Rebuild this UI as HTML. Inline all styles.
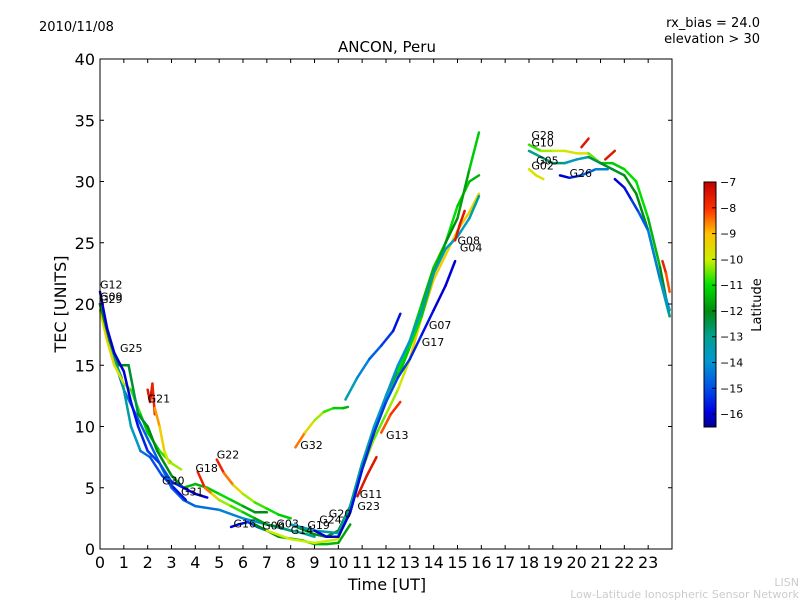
<!DOCTYPE html>
<html><head><meta charset="utf-8"><style>
body{margin:0;background:#fff;}
svg{display:block;font-family:"DejaVu Sans","Liberation Sans",sans-serif;}
</style></head><body>
<svg id="chart" width="800" height="600" viewBox="0 0 800 600">
<defs>
<linearGradient id="jet" x1="0" y1="1" x2="0" y2="0">
<stop offset="0" stop-color="#000090"/><stop offset="0.06" stop-color="#0000e0"/>
<stop offset="0.16" stop-color="#0050e8"/><stop offset="0.27" stop-color="#0098d0"/>
<stop offset="0.37" stop-color="#00a090"/><stop offset="0.47" stop-color="#008a10"/>
<stop offset="0.58" stop-color="#00e000"/><stop offset="0.68" stop-color="#c8f000"/>
<stop offset="0.79" stop-color="#ffc000"/><stop offset="0.89" stop-color="#ff3000"/>
<stop offset="1" stop-color="#c00000"/>
</linearGradient>
</defs>
<text x="39" y="31" font-size="13">2010/11/08</text>
<text x="760" y="27" font-size="13" text-anchor="end">rx_bias = 24.0</text>
<text x="760" y="43" font-size="13" text-anchor="end">elevation &gt; 30</text>
<text x="387" y="52" font-size="15" text-anchor="middle">ANCON, Peru</text>
<g id="marks"></g>
<rect x="100" y="59" width="572" height="490" fill="none" stroke="#000" stroke-width="1"/>
<g id="axes"></g>
<text x="387" y="590" font-size="16" text-anchor="middle">Time [UT]</text>
<text x="66" y="304" font-size="16" text-anchor="middle" transform="rotate(-90 66 304)">TEC [UNITS]</text>
<rect x="704" y="182" width="12" height="245" fill="url(#jet)" stroke="#000" stroke-width="1"/>
<g id="cbticks"></g>
<text x="761" y="305" font-size="13" text-anchor="middle" transform="rotate(-90 761 305)">Latitude</text>
<text x="799" y="586" font-size="11" fill="#ccc" text-anchor="end">LISN</text>
<text x="799" y="598" font-size="11" fill="#ccc" text-anchor="end">Low-Latitude Ionospheric Sensor Network</text>
</svg>
<script>
const xTicks=[0,1,2,3,4,5,6,7,8,9,10,11,12,13,14,15,16,17,18,19,20,21,22,23];
const yTicks=[0,5,10,15,20,25,30,35,40];
const latTicks=[-7,-8,-9,-10,-11,-12,-13,-14,-15,-16];
const tr1T=[0,0.3,0.6,1,1.3,1.6,2,2.5,3,3.5,4,4.5];
const tr1V=[21,18,16,14.5,12,10,8,7,5.5,5,4.5,4.2];
const tr1L=[-16,-16,-16,-16,-16,-15.5,-15.5,-15,-15,-16,-16,-16];
const tr2T=[0,0.4,0.8,1.2,1.4,1.6,2,2.4,3,3.5,4,4.5,5,5.5,6,6.5,7];
const tr2V=[20,17,15,15,13,11,10,8,6,5,5.3,5,4.5,4,3.5,3,3];
const tr2L=[-12,-12,-12,-12,-12.5,-12.5,-12,-12,-12,-11.5,-11.5,-11.5,-11,-11,-11.5,-12,-12];
const tr3T=[0,0.3,0.6,1,1.3,1.7,2,2.5,3,3.4];
const tr3V=[19.5,17,15,13.5,13,11,9.5,8,7,6.5];
const tr3L=[-9.5,-9.5,-9.5,-10,-10.5,-11,-11.5,-11,-10.5,-10];
const tr4T=[0,0.5,1,1.5,2,2.5,3,3.5,4,5,6,7,8];
const tr4V=[20,16,13,11,9,7,5,4,3.5,3.2,2.5,2,1.5];
const tr4L=[-14.5,-14.5,-14.5,-14.5,-15,-14.5,-14.5,-15,-14.5,-14.5,-14,-14,-14];
const tr5T=[0,0.4,0.9,1.3,1.7,2.1,2.6,3.1,3.6];
const tr5V=[20,16.5,14,10,8,7.5,6,5,4];
const tr5L=[-13,-13,-13,-13.5,-14,-15,-15,-15.5,-16];
const g21aT=[2,2.1,2.2,2.3];const g21aV=[13,12,13.5,11];const g21aL=[-7.5,-7.5,-7.5,-8];
const g21bT=[2.3,2.5,2.7,2.9];const g21bV=[11.5,10,8,7];const g21bL=[-8.5,-9,-9.5,-10];
const g22T=[4.9,5.2,5.6,6,6.5,7,7.5,8];const g22V=[7.3,6.2,5.2,4.5,3.8,3.3,2.8,2.5];const g22L=[-7.5,-8,-9,-10,-10.5,-11,-11,-11.5];
const g18T=[4.1,4.4,4.7,5,5.5,6,6.5,7,7.5,8,8.5,9];const g18V=[6.3,5,4.5,4,3.5,3,2.5,2,1.8,1.5,1.3,1];const g18L=[-7.5,-8,-9,-10,-10.5,-11,-11.5,-12,-12.5,-13,-13,-13];
const g32aT=[8.2,8.6,9,9.4,9.8,10.2,10.4];const g32aV=[8.3,9.5,10.5,11.2,11.5,11.5,11.6];const g32aL=[-8,-9,-10,-10.5,-11,-11.5,-11.5];
const g32bT=[10.3,10.8,11.3,11.8,12.3,12.6];const g32bV=[12.2,14,15.5,16.6,17.8,19.2];const g32bL=[-13,-14,-14.5,-15,-15.5,-16];
const g16T=[5.5,5.8,6.2,6.6,7];const g16V=[1.8,2,2.2,1.8,1.5];const g16L=[-16,-16,-15.5,-15,-15];
const rAT=[8,9,9.5,10,10.5,11,11.5,12,12.5,13,13.5,14,14.5,15,15.5,15.9];
const rAV=[2,1.2,1,1.5,3.5,7,9.5,12,14,16.5,19,22.5,25,27,31,34];
const rAL=[-12,-12,-12,-12,-12,-11.5,-11.5,-11.5,-11.5,-11,-11,-11.5,-12,-12,-11.5,-11];
const rBT=[7,8,9,10,10.4,11,11.5,12,12.5,13,13.5,14,14.5,15,15.5,15.9];
const rBV=[1.5,0.8,0.5,0.8,3,6.5,9,11,13,15.5,19,22,24,26,27.5,29];
const rBL=[-10,-10,-10,-10,-10,-10,-10.5,-10.5,-10,-9.5,-9,-9,-9.5,-9.5,-9,-9.8];
const rCT=[9,9.5,10,10.5,11,11.5,12,12.5,13,13.5,14,14.5,14.9];
const rCV=[1.5,1,1,3,6.5,9.5,12,14,15.5,17.5,19.5,21.5,23.5];
const rCL=[-16,-16,-16,-16,-15.5,-15.5,-15,-15,-15.5,-15.5,-16,-16,-16];
const rDT=[8,9,10,10.5,11,11.5,12,12.5,13,13.5,14,14.5,15,15.5,15.9];
const rDV=[2,1.5,1.3,3.5,7,10,12.5,15,17,19.5,22.5,24.5,25.5,27,28.8];
const rDL=[-13.5,-13.5,-13,-13,-13.5,-13.5,-14,-14,-14,-13.5,-13,-13.5,-14,-13.5,-13];
const rET=[10,10.5,11,11.5,12,12.5,13,13.5,14,14.5,15,15.5,15.9];
const rEV=[1,3,6.5,9.5,12.5,14.5,17,20,23,25,28,30,30.5];
const rEL=[-12,-12,-12,-12.5,-12,-11,-11,-11.5,-11.5,-11,-11,-11.5,-11.5];
const g13T=[11.8,12.2,12.6];const g13V=[9.5,11,12];const g13L=[-8,-8.5,-7.5];
const g11T=[10.8,11.2,11.6];const g11V=[4.3,6,7.5];const g11L=[-7.5,-7.5,-7.5];
const botT=[6.5,7.5,8.5,9,9.5,10,10.5];const botV=[2,1,0.7,0.4,0.4,0.5,2];const botL=[-12,-12,-11.5,-11.5,-11.5,-11.5,-12];
const g08T=[14.9,15.1,15.3];const g08V=[25.2,26.5,27.6];const g08L=[-7.5,-7.5,-7.5];
const e1T=[18,18.5,19,19.5,20,20.5,21,21.5,22,22.5,23,23.5,23.9];
const e1V=[33,32.5,32.5,32.5,32.3,32.3,31.5,31.5,31,30,27,23,19];
const e1L=[-11,-10.5,-10,-10,-9.5,-10,-11,-11.5,-11,-11,-11,-12,-12];
const e2T=[18,18.5,19,19.5,20,20.5,21,21.5,22,22.5,23,23.5,23.9];
const e2V=[32.5,32,31.5,31.5,31.8,32,31.5,31,30.5,29,26,22,19];
const e2L=[-13,-13,-12.5,-13,-14,-13,-12,-12.5,-12,-12,-12,-13,-13];
const e3T=[18,18.3,18.6];const e3V=[31,30.5,30.2];const e3L=[-9.8,-9.8,-9.5];
const e4T=[19.3,19.7,20.2,20.8,21.3];const e4V=[30.5,30.3,30.5,31,31];const e4L=[-16,-16,-15,-14.5,-14];
const e5T=[21.6,22,22.3,22.6,23,23.5,23.9];const e5V=[30.2,29.5,28.5,27.5,26,22,19.5];const e5L=[-16,-16,-15.5,-15,-14.5,-14,-14];
const e6T=[23.6,23.75,23.9];const e6V=[23.5,22.5,21];const e6L=[-7.5,-8,-8.5];
const e7T=[20.2,20.5];const e7V=[32.8,33.5];const e7L=[-7.5,-7.5];
const e8T=[21.2,21.6];const e8V=[31.8,32.5];const e8L=[-7.5,-7.5];
const traces=[[tr4T,tr4V,tr4L],[tr5T,tr5V,tr5L],[tr3T,tr3V,tr3L],[tr2T,tr2V,tr2L],[tr1T,tr1V,tr1L],
[g21aT,g21aV,g21aL],[g21bT,g21bV,g21bL],[g22T,g22V,g22L],[g18T,g18V,g18L],[g32aT,g32aV,g32aL],[g32bT,g32bV,g32bL],
[g16T,g16V,g16L],[botT,botV,botL],[rBT,rBV,rBL],[rET,rEV,rEL],[rAT,rAV,rAL],[rDT,rDV,rDL],[rCT,rCV,rCL],
[g13T,g13V,g13L],[g11T,g11V,g11L],[g08T,g08V,g08L],[e1T,e1V,e1L],[e2T,e2V,e2L],[e3T,e3V,e3L],[e4T,e4V,e4L],
[e5T,e5V,e5L],[e6T,e6V,e6L],[e7T,e7V,e7L],[e8T,e8V,e8L]];
const labelNames=["G12","G29","G09","G25","G21","G22","G18","G30","G31","G16","G06","G03","G14","G19","G24","G20","G11","G23","G13","G32","G07","G17","G08","G04","G28","G10","G05","G02","G26"];
const labelT=[0,0,0,0.84,2,4.9,4,2.6,3.4,5.6,6.8,7.4,8,8.7,9.2,9.6,10.9,10.8,12,8.4,13.8,13.5,15,15.1,18.1,18.1,18.3,18.1,19.7];
const labelV=[21.6,20.4,20.6,16.4,12.3,7.7,6.6,5.6,4.7,2.1,1.9,2.1,1.55,1.96,2.4,2.9,4.5,3.5,9.3,8.5,18.3,16.9,25.2,24.6,33.8,33.2,31.7,31.3,30.7];
const X=t=>100+t*572/24, Y=v=>549-v*490/40, LY=l=>427-(l+16.5)*245/9.5;
const stops=[[0,[0,0,144]],[0.06,[0,0,224]],[0.16,[0,80,232]],[0.27,[0,152,208]],[0.37,[0,160,144]],[0.47,[0,138,16]],[0.58,[0,224,0]],[0.68,[200,240,0]],[0.79,[255,192,0]],[0.89,[255,48,0]],[1,[192,0,0]]];
function col(l){let f=Math.max(0,Math.min(1,(l+16.5)/9.5));for(let i=1;i<stops.length;i++){if(f<=stops[i][0]){const a=stops[i-1],b=stops[i],k=(f-a[0])/(b[0]-a[0]);const c=a[1].map((v,j)=>Math.round(v+(b[1][j]-v)*k));return `rgb(${c})`;}}return 'rgb(192,0,0)';}
const NS='http://www.w3.org/2000/svg';
const marks=document.getElementById('marks');
traces.forEach((tr,ti)=>{const [T,V,L]=tr;for(let i=0;i<T.length-1;i++){const ln=document.createElementNS(NS,'line');
ln.setAttribute('x1',X(T[i]));ln.setAttribute('y1',Y(V[i]));ln.setAttribute('x2',X(T[i+1]));ln.setAttribute('y2',Y(V[i+1]));
ln.setAttribute('stroke',col((L[i]+L[i+1])/2));ln.setAttribute('stroke-width','2.5');ln.setAttribute('stroke-linecap','round');


marks.appendChild(ln);}});
labelNames.forEach((n,i)=>{const t=document.createElementNS(NS,'text');t.setAttribute('x',X(labelT[i]));t.setAttribute('y',Y(labelV[i])+4);t.setAttribute('font-size','11');t.textContent=n;


marks.appendChild(t);});
const axes=document.getElementById('axes');
function add(tag,attrs,txt){const e=document.createElementNS(NS,tag);for(const k in attrs)e.setAttribute(k,attrs[k]);if(txt!==undefined)e.textContent=txt;return e;}
xTicks.forEach(t=>{const x=X(t);
let a=add('line',{x1:x,y1:549,x2:x,y2:545,stroke:'#000'});axes.appendChild(a);
let b=add('line',{x1:x,y1:59,x2:x,y2:63,stroke:'#000'});axes.appendChild(b);
let l=add('text',{x:x,y:568,'font-size':'16','text-anchor':'middle'},String(t));axes.appendChild(l);});
yTicks.forEach(v=>{const y=Y(v);
let a=add('line',{x1:100,y1:y,x2:104,y2:y,stroke:'#000'});axes.appendChild(a);
let b=add('line',{x1:672,y1:y,x2:668,y2:y,stroke:'#000'});axes.appendChild(b);
let l=add('text',{x:95,y:y+6,'font-size':'16','text-anchor':'end'},String(v));axes.appendChild(l);});
const cb=document.getElementById('cbticks');
latTicks.forEach(v=>{const y=LY(v);
let a=add('line',{x1:716,y1:y,x2:712,y2:y,stroke:'#000'});cb.appendChild(a);
let l=add('text',{x:720,y:y+4,'font-size':'11'},'\u2212'+Math.abs(v));cb.appendChild(l);});
</script>
</body></html>
